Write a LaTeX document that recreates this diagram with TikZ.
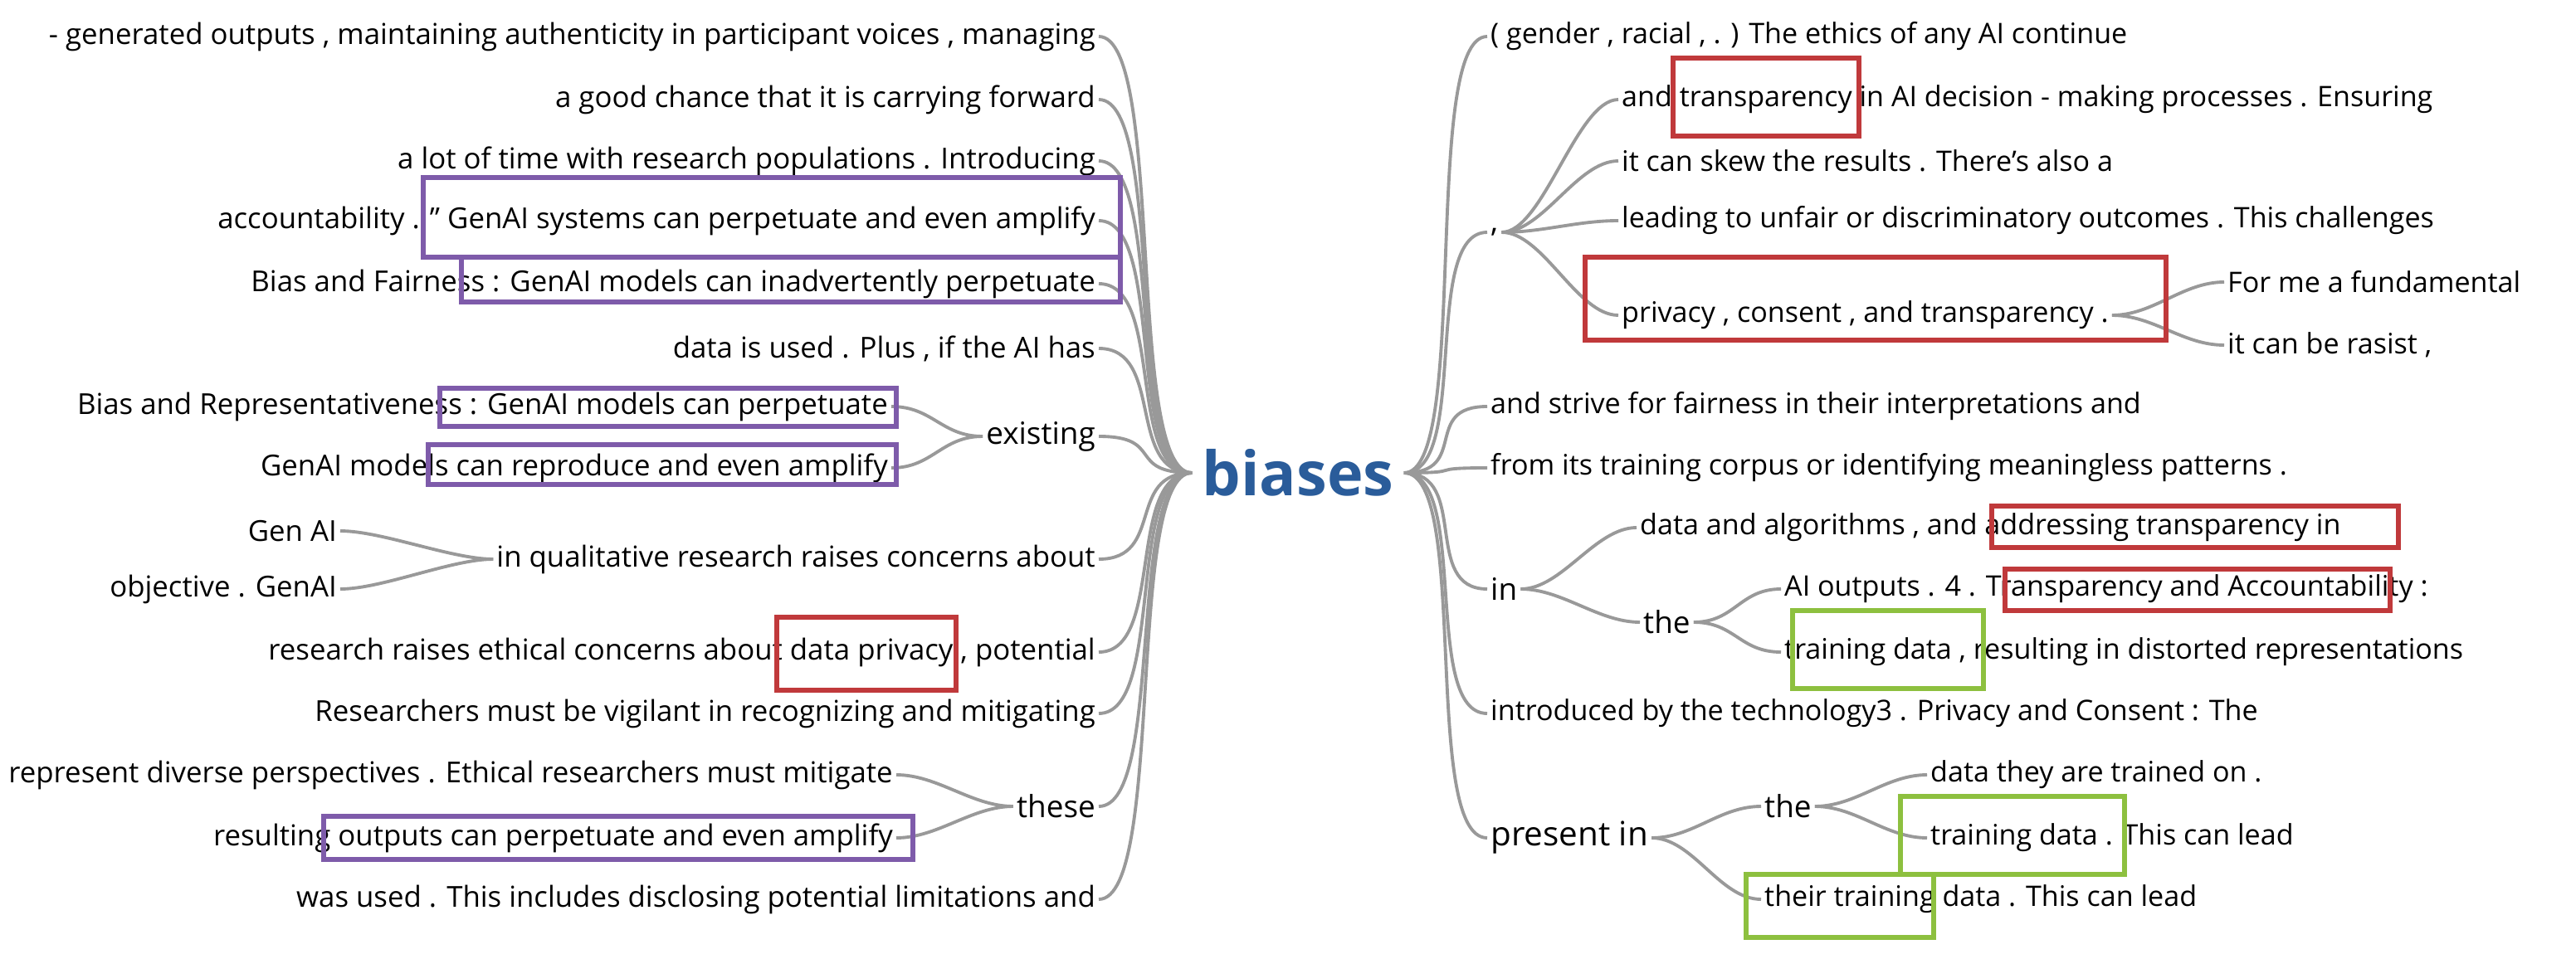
\documentclass[tikz,border=0pt]{standalone}
\usepackage{fontspec}
\setmainfont{Open Sans}
\definecolor{purp}{HTML}{7E5BAA}
\definecolor{redb}{HTML}{C0393B}
\definecolor{grnb}{HTML}{8DC03F}
\definecolor{rootblue}{HTML}{2A5C9A}
\begin{document}
\begin{tikzpicture}[x=0.02cm,y=-0.02cm,
	lw/.style={anchor=east,inner sep=1pt,font=\fontsize{9.9}{11}\selectfont},
	rw/.style={anchor=west,inner sep=1pt,font=\fontsize{9.7}{11}\selectfont},
	link/.style={draw=gray!80,line width=1.1pt},
	box/.style={line width=1.6pt}]
	\useasboundingbox (0,0) rectangle (1552,578);
	\node [font=\fontsize{21}{24}\bfseries\selectfont,text=rootblue] (root) at (782,285) {biases};

	% left branch
	\node [lw] (l1) at (662,22) {- generated outputs , maintaining authenticity in participant voices , managing};
	\node [lw] (l2) at (662,60) {a good chance that it is carrying forward};
	\node [lw] (l3) at (662,97) {a lot of time with research populations . Introducing};
	\node [lw] (l4) at (662,133) {accountability . " GenAI systems can perpetuate and even amplify};
	\node [lw] (l5) at (662,171) {Bias and Fairness : GenAI models can inadvertently perpetuate};
	\node [lw] (l6) at (662,210) {data is used . Plus , if the AI has};
	\node [lw,font=\fontsize{10.5}{12}\selectfont] (l7) at (662,263) {existing};
	\node [lw] (l7a) at (537,245) {Bias and Representativeness : GenAI models can perpetuate};
	\node [lw] (l7b) at (537,282) {GenAI models can reproduce and even amplify};
	\node [lw] (l8) at (662,337) {in qualitative research raises concerns about};
	\node [lw] (l8a) at (205,320) {Gen AI};
	\node [lw] (l8b) at (205,355) {objective . GenAI};
	\node [lw] (l9) at (662,393) {research raises ethical concerns about data privacy , potential};
	\node [lw] (l10) at (662,430) {Researchers must be vigilant in recognizing and mitigating};
	\node [lw,font=\fontsize{10.5}{12}\selectfont] (l11) at (662,486) {these};
	\node [lw] (l11a) at (540,467) {represent diverse perspectives . Ethical researchers must mitigate};
	\node [lw] (l11b) at (540,505) {resulting outputs can perpetuate and even amplify};
	\node [lw] (l12) at (662,542) {was used . This includes disclosing potential limitations and};

	\foreach \n in {l1,l2,l3,l4,l5,l6,l7,l8,l9,l10,l11,l12}
		\draw [link] (root.west) .. controls +(-40,0) and +(40,0) .. (\n.east);
	\foreach \p/\c in {l7/l7a,l7/l7b,l8/l8a,l8/l8b,l11/l11a,l11/l11b}
		\draw [link] (\p.west) .. controls +(-25,0) and +(25,0) .. (\c.east);

	% right branch
	\node [rw] (r1) at (896,22) {( gender , racial , . ) The ethics of any AI continue};
	\node [rw,font=\fontsize{10.5}{12}\selectfont] (r2) at (896,140) {,};
	\node [rw] (r2a) at (975,60) {and transparency in AI decision - making processes . Ensuring};
	\node [rw] (r2b) at (975,97) {it can skew the results . There's also a};
	\node [rw] (r2c) at (975,133) {leading to unfair or discriminatory outcomes . This challenges};
	\node [rw] (r2d) at (975,190) {privacy , consent , and transparency .};
	\node [rw] (r2d1) at (1340,170) {For me a fundamental};
	\node [rw] (r2d2) at (1340,208) {it can be rasist ,};
	\node [rw] (r3) at (896,245) {and strive for fairness in their interpretations and};
	\node [rw] (r4) at (896,282) {from its training corpus or identifying meaningless patterns .};
	\node [rw,font=\fontsize{10.5}{12}\selectfont] (r5) at (896,355) {in};
	\node [rw] (r5a) at (986,318) {data and algorithms , and addressing transparency in};
	\node [rw,font=\fontsize{10.5}{12}\selectfont] (r5b) at (988,375) {the};
	\node [rw] (r5b1) at (1073,355) {AI outputs . 4 . Transparency and Accountability :};
	\node [rw] (r5b2) at (1073,393) {training data , resulting in distorted representations};
	\node [rw] (r6) at (896,430) {introduced by the technology3 . Privacy and Consent : The};
	\node [rw,font=\fontsize{11.5}{13}\selectfont] (r7) at (896,505) {present in};
	\node [rw,font=\fontsize{10.5}{12}\selectfont] (r7a) at (1061,486) {the};
	\node [rw] (r7a1) at (1161,467) {data they are trained on .};
	\node [rw] (r7a2) at (1161,505) {training data . This can lead};
	\node [rw] (r7b) at (1061,542) {their training data . This can lead};

	\foreach \n in {r1,r2,r3,r4,r5,r6,r7}
		\draw [link] (root.east) .. controls +(40,0) and +(-40,0) .. (\n.west);
	\foreach \p/\c in {r2/r2a,r2/r2b,r2/r2c,r2/r2d,r2d/r2d1,r2d/r2d2,r5/r5a,r5/r5b,r5b/r5b1,r5b/r5b2,r7/r7a,r7/r7b,r7a/r7a1,r7a/r7a2}
		\draw [link] (\p.east) .. controls +(25,0) and +(-25,0) .. (\c.west);

	% highlight boxes
	\draw [box,purp] (255,107) rectangle (675,155);
	\draw [box,purp] (278,155) rectangle (675,182);
	\draw [box,purp] (265,234) rectangle (540,257);
	\draw [box,purp] (258,268) rectangle (540,292);
	\draw [box,purp] (195,492) rectangle (550,518);
	\draw [box,redb] (468,372) rectangle (576,416);
	\draw [box,redb] (1008,35) rectangle (1120,82);
	\draw [box,redb] (955,155) rectangle (1305,205);
	\draw [box,redb] (1200,305) rectangle (1445,330);
	\draw [box,redb] (1208,343) rectangle (1440,368);
	\draw [box,grnb] (1080,368) rectangle (1195,415);
	\draw [box,grnb] (1145,480) rectangle (1280,527);
	\draw [box,grnb] (1052,527) rectangle (1165,565);
\end{tikzpicture}
\end{document}
